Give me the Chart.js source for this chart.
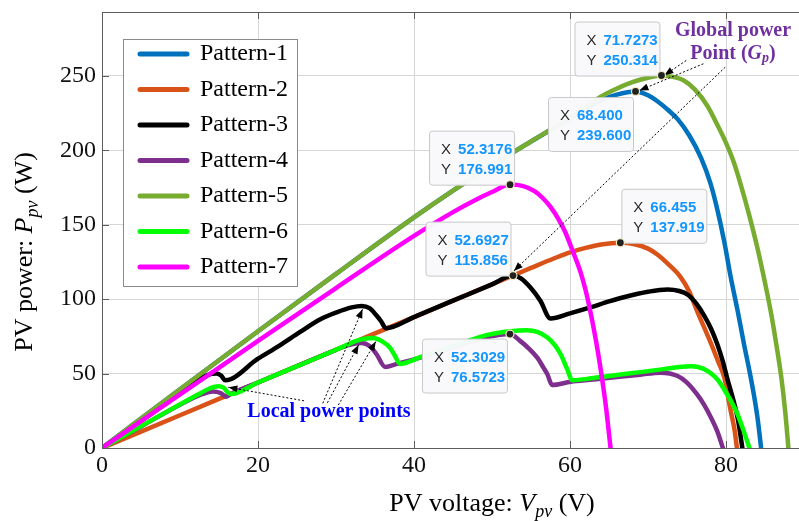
<!DOCTYPE html>
<html>
<head>
<meta charset="utf-8">
<title>PV power curves</title>
<script src="https://cdn.jsdelivr.net/npm/chart.js@4.4.1/dist/chart.umd.min.js"></script>
<style>
    html, body { margin: 0; padding: 0; background: #fff; overflow: hidden; }
    #wrap { width: 910px; height: 521px; }
</style>
</head>
<body>
<div id="wrap"><canvas id="pvChart" width="910" height="521"></canvas></div>
<script>
// axis ticks
const xTicks = [0, 20, 40, 60, 80, 100];
const yTicks = [0, 50, 100, 150, 200, 250];

const patternNames = ["Pattern-1", "Pattern-2", "Pattern-3", "Pattern-4", "Pattern-5", "Pattern-6", "Pattern-7"];
const patternColors = ["#0072BD", "#D95319", "#000000", "#7E2F8E", "#77AC30", "#00FF00", "#FF00FF"];

// P-V curves (V in volts, P in watts)
const p1V = [0, 10, 20, 30, 40, 45, 50, 55, 60, 63.9, 66, 68.4, 70, 71.2, 72.5, 73.8, 75.3, 76.8, 78, 78.9, 79.8, 80.6, 81.5, 82.3, 83, 83.6, 84.1, 84.5];
const p1P = [0, 39.5, 78.5, 117, 155, 173, 190, 206, 221.5, 233.5, 237.5, 239.6, 237, 233, 227.5, 221, 210, 195, 178, 160, 138, 115, 92, 70, 52, 35, 18, 0];

const p2V = [0, 10, 20, 30, 40, 50, 52.6927, 55, 58, 60, 62, 64, 66.455, 68, 70, 71.2, 72.5, 74.2, 75.3, 76.3, 77.2, 78.1, 79, 79.8, 80.6, 81.1, 81.4];
const p2P = [0, 22, 44, 66, 88, 110, 115.9, 121, 127.5, 131.5, 134.5, 136.8, 137.9, 137.3, 134, 130, 124, 114.7, 105, 92, 81, 70, 58, 47, 25, 12, 0];

const p3V = [0, 10, 13.5, 14.7, 15.3, 15.8, 20, 22.8, 25.4, 28, 30, 32, 33.3, 34.3, 35.2, 35.8, 36.4, 40, 45, 50, 52.6927, 53.7, 54.9, 56.2, 57.5, 60, 62.6, 65, 67, 70, 72.5, 74, 75.1, 76.2, 77.2, 78.1, 78.9, 79.6, 80.2, 80.9, 81.5, 82.1];
const p3P = [0, 36.5, 49, 50, 48.5, 45.5, 60, 69, 78, 86.5, 91, 94.5, 95.5, 94, 89, 85, 80.5, 88, 99, 110, 115.9, 114, 108, 99, 87, 90.5, 94.5, 98.5, 101.5, 105, 106.5, 105.5, 103, 97, 89, 80, 69.5, 58, 46, 33, 20, 0];

const p4V = [0, 5, 10, 12.5, 14.2, 15.2, 15.9, 16.5, 20, 25, 30, 31.5, 33.3, 34.3, 35.2, 36.3, 37.8, 40.8, 45, 49.4, 52.3029, 53.6, 54.7, 55.8, 56.6, 57.1, 57.7, 60.1, 63, 66, 69, 71.6, 73.8, 75, 76.3, 77.2, 78.1, 78.9, 79.6];
const p4P = [0, 14.5, 29, 35.5, 38, 37, 34.5, 36.3, 44, 55, 66, 69, 70.5, 68.5, 63, 54.5, 56.5, 60.7, 67.5, 74.5, 76.6, 72, 67, 60.7, 54, 49.5, 42.3, 44.5, 46, 47.7, 49.3, 50.6, 48.4, 44, 36, 29, 20.2, 11, 0];

const p5V = [0, 10, 20, 30, 40, 45, 50, 55, 60, 63.9, 66, 68, 70, 71.7273, 73, 74.6, 76, 77.6, 79, 80, 81, 82, 83, 84, 85, 85.8, 86.5, 87.1, 87.6, 88];
const p5P = [0, 39.5, 78.5, 117, 155, 173, 190, 206, 222, 236, 241.5, 245.8, 248.8, 250.3, 249.6, 247, 241, 230, 216, 205, 192, 175, 156, 135, 111, 90, 68, 47, 24, 0];

const p6V = [0, 5, 10, 12.5, 13.8, 14.9, 15.6, 16.1, 16.5, 20, 25, 30, 31.4, 32.5, 33.5, 34.8, 35.8, 36.9, 37.5, 38.2, 40.8, 45, 49.4, 52.3, 54.5, 55.8, 57.1, 58, 58.8, 59.6, 60.3, 63, 66, 69, 72, 74, 75.5, 77, 78.1, 79, 79.8, 80.7, 81.5, 82.3, 83];
const p6P = [0, 14.7, 29.3, 36.5, 40, 41.5, 40.5, 37.5, 36.3, 44, 55, 66, 69.3, 71.8, 73.3, 74, 72, 67.5, 62.5, 56.5, 61, 68.5, 76, 78.5, 79.2, 78, 74.2, 69.5, 63, 53.5, 45.5, 47, 49, 51, 53, 54.5, 55, 53.5, 50, 45.5, 39, 31, 22.5, 11, 0];

const p7V = [0, 10, 20, 30, 40, 45, 48, 50, 52.3176, 54, 55.5, 56.5, 57.5, 58.5, 59.4, 60.3, 61.3, 62, 62.6, 63.3, 63.9, 64.6, 65.2];
const p7P = [0, 36, 72, 107.5, 142.5, 158.5, 167, 172, 177, 176, 172.5, 168, 162, 154, 145, 133, 119, 106, 92, 73, 54, 28, 0];

// data tips (values as printed on the figure)
const tipX = [71.7273, 68.4, 52.3176, 66.455, 52.6927, 52.3029];
const tipY = [250.314, 239.6, 176.991, 137.919, 115.856, 76.5723];
const tipXText = ["71.7273", "68.400", "52.3176", "66.455", "52.6927", "52.3029"];
const tipYText = ["250.314", "239.600", "176.991", "137.919", "115.856", "76.5723"];
// where each tip box sits relative to its marker (px)
const tipOffsets = [[-87, -54], [-87.5, 5.5], [-81, -54], [1, -54], [-87.5, -54], [-88, 4.5]];

// annotation arrows [tailV, tailP, tipV, tipP]
const globalArrows = [[74.9, 260.4, 72.1, 250.5], [77.1, 258.2, 68.9, 240.3], [79.9, 255.9, 52.8, 119.0]];
const localArrows = [[25.9, 31.7, 16.2, 40.8], [28.3, 30.0, 33.4, 93.3], [28.9, 30.4, 32.9, 69.3], [30.3, 28.9, 35.1, 71.5]];

const serif = "'Liberation Serif', 'Times New Roman', serif";
const sans = "'Liberation Sans', Arial, sans-serif";

const series = [[p1V, p1P], [p2V, p2P], [p3V, p3P], [p4V, p4P], [p5V, p5P], [p6V, p6P], [p7V, p7P]];

const datasets = patternNames.map((name, i) => ({
    label: name,
    data: series[i][0].map((v, k) => ({ x: v, y: series[i][1][k] })),
    borderColor: patternColors[i],
    backgroundColor: patternColors[i],
    borderWidth: 4.5,
    borderJoinStyle: 'round',
    borderCapStyle: 'round',
    pointRadius: 0,
    fill: false,
    cubicInterpolationMode: 'monotone',
    // later patterns sit on top, like the original plot
    order: patternNames.length - i
}));

function drawRich(ctx, parts, x, y) {
    let total = 0;
    parts.forEach(p => { ctx.font = p.font; total += ctx.measureText(p.text).width; });
    let cx = x - total / 2;
    parts.forEach(p => {
        ctx.font = p.font;
        ctx.fillText(p.text, cx, y + (p.dy || 0));
        cx += ctx.measureText(p.text).width;
    });
}

function drawArrow(ctx, x1, y1, x2, y2) {
    ctx.save();
    ctx.strokeStyle = '#000';
    ctx.lineWidth = 1;
    ctx.setLineDash([2, 2]);
    ctx.beginPath();
    ctx.moveTo(x1, y1);
    ctx.lineTo(x2, y2);
    ctx.stroke();
    ctx.setLineDash([]);
    const a = Math.atan2(y2 - y1, x2 - x1);
    const len = 9, half = 3.5;
    ctx.fillStyle = '#000';
    ctx.beginPath();
    ctx.moveTo(x2, y2);
    ctx.lineTo(x2 - len * Math.cos(a) + half * Math.sin(a), y2 - len * Math.sin(a) - half * Math.cos(a));
    ctx.lineTo(x2 - len * Math.cos(a) - half * Math.sin(a), y2 - len * Math.sin(a) + half * Math.cos(a));
    ctx.closePath();
    ctx.fill();
    ctx.restore();
}

function roundRect(ctx, x, y, w, h, r) {
    ctx.beginPath();
    ctx.moveTo(x + r, y);
    ctx.lineTo(x + w - r, y);
    ctx.arcTo(x + w, y, x + w, y + r, r);
    ctx.lineTo(x + w, y + h - r);
    ctx.arcTo(x + w, y + h, x + w - r, y + h, r);
    ctx.lineTo(x + r, y + h);
    ctx.arcTo(x, y + h, x, y + h - r, r);
    ctx.lineTo(x, y + r);
    ctx.arcTo(x, y, x + r, y, r);
    ctx.closePath();
}

const decorations = {
    id: 'decorations',
    afterDatasetsDraw(chart) {
        const ctx = chart.ctx;
        const ca = chart.chartArea;
        const xs = chart.scales.x, ys = chart.scales.y;

        // axes box with inward ticks
        ctx.save();
        ctx.strokeStyle = '#5c5c5c';
        ctx.lineWidth = 1;
        ctx.strokeRect(ca.left + 0.5, ca.top + 0.5, ca.right - ca.left, ca.bottom - ca.top);
        ctx.beginPath();
        xTicks.forEach(v => {
            const px = Math.round(xs.getPixelForValue(v)) + 0.5;
            ctx.moveTo(px, ca.bottom); ctx.lineTo(px, ca.bottom - 7);
            ctx.moveTo(px, ca.top); ctx.lineTo(px, ca.top + 7);
        });
        yTicks.forEach(v => {
            const py = Math.round(ys.getPixelForValue(v)) + 0.5;
            ctx.moveTo(ca.left, py); ctx.lineTo(ca.left + 7, py);
            ctx.moveTo(ca.right, py); ctx.lineTo(ca.right - 7, py);
        });
        ctx.stroke();
        ctx.restore();

        // arrows
        globalArrows.concat(localArrows).forEach(a => {
            drawArrow(ctx, xs.getPixelForValue(a[0]), ys.getPixelForValue(a[1]),
                xs.getPixelForValue(a[2]), ys.getPixelForValue(a[3]));
        });

        // data tip markers and boxes
        ctx.save();
        tipX.forEach((v, i) => {
            const px = xs.getPixelForValue(v);
            const py = ys.getPixelForValue(tipY[i]);
            const bx = px + tipOffsets[i][0];
            const by = py + tipOffsets[i][1];
            roundRect(ctx, bx + 0.5, by + 0.5, 85, 54, 3);
            ctx.fillStyle = 'rgba(249,249,252,0.97)';
            ctx.fill();
            ctx.strokeStyle = '#c8c8c8';
            ctx.lineWidth = 1;
            ctx.stroke();

            ctx.textBaseline = 'middle';
            ctx.textAlign = 'left';
            ctx.font = `15px ${sans}`;
            ctx.fillStyle = '#2b2b2b';
            ctx.fillText('X', bx + 12, by + 19);
            ctx.fillText('Y', bx + 12, by + 39);
            ctx.font = `bold 15px ${sans}`;
            ctx.fillStyle = '#1496ff';
            ctx.fillText(tipXText[i], bx + 29, by + 19);
            ctx.fillText(tipYText[i], bx + 29, by + 39);

            ctx.beginPath();
            ctx.arc(px, py, 4, 0, Math.PI * 2);
            ctx.fillStyle = '#222';
            ctx.fill();
            ctx.strokeStyle = '#f4efc2';
            ctx.lineWidth = 1.2;
            ctx.stroke();
        });
        ctx.restore();

        // annotation texts
        ctx.save();
        ctx.textBaseline = 'middle';
        ctx.textAlign = 'left';
        ctx.fillStyle = '#7030A0';
        drawRich(ctx, [{ text: 'Global power', font: `bold 20px ${serif}` }],
            xs.getPixelForValue(80.9), ys.getPixelForValue(280.5));
        drawRich(ctx, [
            { text: 'Point (', font: `bold 20px ${serif}` },
            { text: 'G', font: `bold italic 20px ${serif}` },
            { text: 'p', font: `bold italic 14px ${serif}`, dy: 5 },
            { text: ')', font: `bold 20px ${serif}` }
        ], xs.getPixelForValue(80.9), ys.getPixelForValue(264.9));
        ctx.fillStyle = '#0000FF';
        drawRich(ctx, [{ text: 'Local power points', font: `bold 20px ${serif}` }],
            xs.getPixelForValue(29.1), ys.getPixelForValue(24.2));
        ctx.restore();

        // legend inside the plot
        ctx.save();
        const lx = ca.left + 21, ly = ca.top + 27;
        ctx.fillStyle = '#fff';
        ctx.fillRect(lx, ly, 174, 247);
        ctx.strokeStyle = '#8a8a8a';
        ctx.lineWidth = 1;
        ctx.strokeRect(lx + 0.5, ly + 0.5, 174, 247);
        ctx.textBaseline = 'middle';
        ctx.textAlign = 'left';
        ctx.font = `24px ${serif}`;
        chart.data.datasets.forEach((ds, i) => {
            const ry = ly + 15 + i * 35.5;
            ctx.strokeStyle = ds.borderColor;
            ctx.lineWidth = 5;
            ctx.lineCap = 'round';
            ctx.beginPath();
            ctx.moveTo(lx + 17, ry);
            ctx.lineTo(lx + 64, ry);
            ctx.stroke();
            ctx.fillStyle = '#000';
            ctx.fillText(ds.label, lx + 77, ry);
        });
        ctx.restore();
    },
    afterDraw(chart) {
        const ctx = chart.ctx;
        const ca = chart.chartArea;
        ctx.save();
        ctx.fillStyle = '#000';
        ctx.textBaseline = 'alphabetic';
        ctx.textAlign = 'left';
        // x axis title
        drawRich(ctx, [
            { text: 'PV voltage: ', font: `26px ${serif}` },
            { text: 'V', font: `italic 26px ${serif}` },
            { text: 'pv', font: `italic 18px ${serif}`, dy: 6 },
            { text: ' (V)', font: `26px ${serif}` }
        ], (ca.left + ca.right) / 2, 511);
        // y axis title
        ctx.translate(31.5, 252);
        ctx.rotate(-Math.PI / 2);
        drawRich(ctx, [
            { text: 'PV power: ', font: `26px ${serif}` },
            { text: 'P', font: `italic 26px ${serif}` },
            { text: 'pv', font: `italic 18px ${serif}`, dy: 6 },
            { text: ' (W)', font: `26px ${serif}` }
        ], 0, 0);
        ctx.restore();
    }
};

document.addEventListener('DOMContentLoaded', function() {
    const ctx = document.getElementById('pvChart');

    new Chart(ctx, {
        type: 'line',
        data: { datasets: datasets },
        options: {
            responsive: false,
            animation: false,
            events: [],
            devicePixelRatio: 1,
            layout: { padding: { top: 12, left: 0, right: 28, bottom: 0 } },
            plugins: {
                legend: { display: false },
                tooltip: { enabled: false }
            },
            scales: {
                x: {
                    type: 'linear',
                    min: 0,
                    max: 100,
                    afterBuildTicks: s => { s.ticks = xTicks.map(v => ({ value: v })); },
                    afterFit: s => {
                        s.height = 73;
                        s.paddingLeft = 0; s.paddingRight = 0;
                    },
                    ticks: {
                        color: '#111',
                        font: { family: serif, size: 24 },
                        padding: 3,
                        maxRotation: 0
                    },
                    grid: { color: '#d6d6d6', drawTicks: false },
                    border: { display: false }
                },
                y: {
                    type: 'linear',
                    min: 0,
                    max: 293,
                    afterBuildTicks: s => { s.ticks = yTicks.map(v => ({ value: v })); },
                    afterFit: s => {
                        s.width = 102;
                        s.paddingTop = 0; s.paddingBottom = 0;
                    },
                    ticks: {
                        color: '#111',
                        font: { family: serif, size: 24 },
                        padding: 6
                    },
                    grid: { color: '#d6d6d6', drawTicks: false },
                    border: { display: false }
                }
            }
        },
        plugins: [decorations]
    });
});
</script>
</body>
</html>
